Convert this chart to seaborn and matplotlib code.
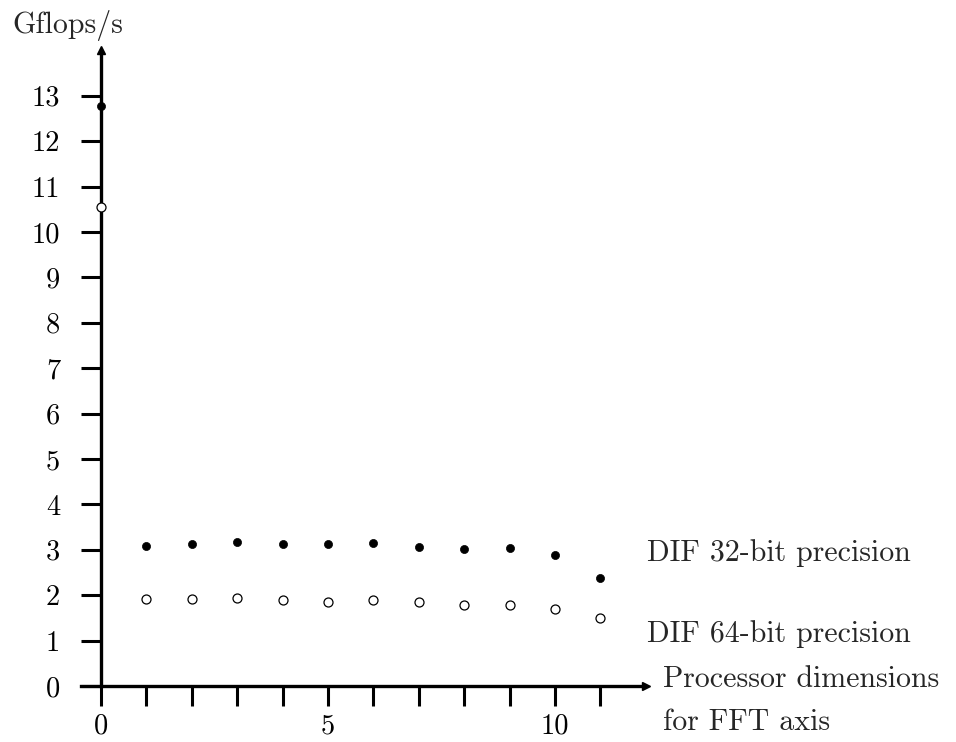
import matplotlib
matplotlib.use("Agg")
import matplotlib.pyplot as plt
import seaborn as sns
import pandas as pd

# ---- data ----
proc_dims = [0, 1, 2, 3, 4, 5, 6, 7, 8, 9, 10, 11]
gflops_32 = [12.78, 3.08, 3.13, 3.18, 3.13, 3.13, 3.16, 3.07, 3.01, 3.05, 2.89, 2.38]
gflops_64 = [10.56, 1.92, 1.92, 1.94, 1.89, 1.85, 1.89, 1.84, 1.78, 1.78, 1.70, 1.50]
y_ticks = list(range(0, 14))
x_ticks = list(range(0, 12))
x_tick_labels = ["0", "", "", "", "", "5", "", "", "", "", "10", ""]
label_32 = "DIF 32-bit precision"
label_64 = "DIF 64-bit precision"
x_title_1 = "Processor dimensions"
x_title_2 = "for FFT axis"
y_title = "Gflops/s"

sns.set_style("white")
plt.rcParams["font.family"] = ["cmr10", "DejaVu Serif"]
plt.rcParams["axes.unicode_minus"] = False
plt.rcParams["axes.formatter.use_mathtext"] = True

W, H = 956, 742
fig = plt.figure(figsize=(W / 100, H / 100), dpi=100)
ax = fig.add_axes([0, 0, 1, 1])

# pixel mapping: x=0 at px 101, y=0 at px 686, 45.4 px per unit
ppu = 45.4
x0_px, y0_px = 101, 686
ax.set_xlim(-x0_px / ppu, (W - x0_px) / ppu)
ax.set_ylim(-(H - y0_px) / ppu, y0_px / ppu)

df = pd.DataFrame({"dim": proc_dims, "g32": gflops_32, "g64": gflops_64})
sns.scatterplot(data=df, x="dim", y="g32", ax=ax, color="black", s=34,
                edgecolor="black", linewidth=0.5, zorder=5)
sns.scatterplot(data=df, x="dim", y="g64", ax=ax, facecolor="white", s=42,
                edgecolor="black", linewidth=0.9, zorder=5)

# axes as spines through origin
for side in ["top", "right"]:
    ax.spines[side].set_visible(False)
ax.spines["left"].set_position(("data", 0))
ax.spines["bottom"].set_position(("data", 0))
ax.spines["left"].set_bounds(0, 13.9)
ax.spines["bottom"].set_bounds(-0.44, 11.95)
for side in ["left", "bottom"]:
    ax.spines[side].set_linewidth(2.4)
    ax.spines[side].set_color("black")

# arrowheads
ax.plot([0], [14.0], marker="^", color="black", markersize=6, clip_on=False)
ax.plot([12.0], [0], marker=">", color="black", markersize=6, clip_on=False)

ax.set_yticks(y_ticks)
ax.set_yticklabels([str(v) for v in y_ticks])
ax.set_xticks(x_ticks)
ax.set_xticklabels(x_tick_labels)
ax.tick_params(axis="y", direction="out", length=14.4, width=2.2, pad=15,
               labelsize=20.5, colors="black", left=True)
ax.tick_params(axis="x", direction="out", length=14.4, width=2.2, pad=5,
               labelsize=20.5, colors="black", bottom=True)
ax.set_xlabel("")
ax.set_ylabel("")
ax.grid(False)

def px(x, y):
    return x / W, 1 - y / H

fs = 21.5
ax.text(*px(12, 33), y_title, transform=ax.transAxes, fontsize=fs, va="baseline", ha="left")
ax.text(*px(647, 561), label_32, transform=ax.transAxes, fontsize=fs, va="baseline", ha="left")
ax.text(*px(647, 642), label_64, transform=ax.transAxes, fontsize=fs, va="baseline", ha="left")
ax.text(*px(663, 687), x_title_1, transform=ax.transAxes, fontsize=fs, va="baseline", ha="left")
ax.text(*px(663, 730), x_title_2, transform=ax.transAxes, fontsize=fs, va="baseline", ha="left")

fig.savefig("out.png", dpi=100)
